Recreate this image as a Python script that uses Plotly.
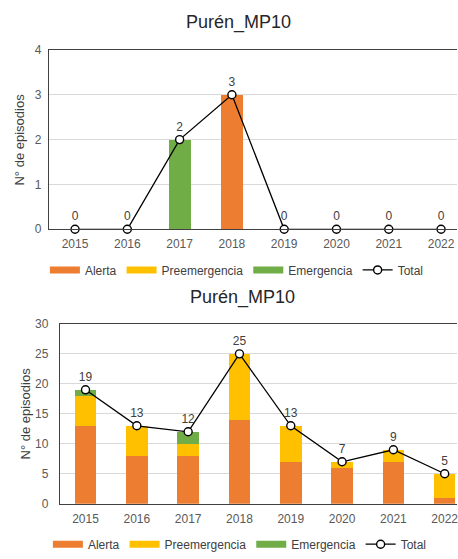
import plotly.graph_objects as go

years = ["2015", "2016", "2017", "2018", "2019", "2020", "2021", "2022"]

# Top chart
top_alerta = [0, 0, 0, 3, 0, 0, 0, 0]
top_pre = [0, 0, 0, 0, 0, 0, 0, 0]
top_emerg = [0, 0, 2, 0, 0, 0, 0, 0]
top_total = [0, 0, 2, 3, 0, 0, 0, 0]

# Bottom chart
bot_alerta = [13, 8, 8, 14, 7, 6, 7, 1]
bot_pre = [5, 5, 2, 11, 6, 1, 2, 4]
bot_emerg = [1, 0, 2, 0, 0, 0, 0, 0]
bot_total = [19, 13, 12, 25, 13, 7, 9, 5]

series_names = ["Alerta", "Preemergencia", "Emergencia"]
colors = ["#ED7D31", "#FFC000", "#70AD47"]
title_text = "Purén_MP10"
ytitle = "N° de episodios"

W, H = 458, 559
FONT = "Liberation Sans, Arial, sans-serif"
TICKC = "#595959"
TXTC = "#404040"

fig = go.Figure()

def add_chart(xa, ya, legend, alerta, pre, emerg, total):
    for name, vals, col in zip(series_names, [alerta, pre, emerg], colors):
        fig.add_trace(go.Bar(x=years, y=vals, name=name, marker_color=col,
                             marker_line_width=0, showlegend=False,
                             xaxis=xa, yaxis=ya))
    fig.add_trace(go.Scatter(x=years, y=total, name="Total", mode="lines+markers+text",
                             text=[str(v) for v in total], textposition="top center",
                             textfont=dict(size=12, color=TXTC, family=FONT),
                             line=dict(color="#000000", width=1.3),
                             marker=dict(symbol="circle", size=8, color="white",
                                         line=dict(color="#000000", width=1.4)),
                             cliponaxis=False, showlegend=False,
                             xaxis=xa, yaxis=ya))
    # legend entries
    for name, col in zip(series_names, colors):
        fig.add_trace(go.Scatter(x=[None], y=[None], name=name, mode="lines",
                                 line=dict(color=col, width=7), legend=legend,
                                 xaxis=xa, yaxis=ya))
    fig.add_trace(go.Scatter(x=[None], y=[None], name="Total", mode="lines+markers",
                             line=dict(color="#000000", width=1.3),
                             marker=dict(symbol="circle", size=8, color="white",
                                         line=dict(color="#000000", width=1.4)),
                             legend=legend, xaxis=xa, yaxis=ya))

add_chart("x", "y", "legend", top_alerta, top_pre, top_emerg, top_total)
add_chart("x2", "y2", "legend2", bot_alerta, bot_pre, bot_emerg, bot_total)

def py(px):
    return 1 - px / H

xcommon = dict(type="category", showgrid=False, showline=True, mirror=True,
               linecolor="#404040", linewidth=1.3, ticks="",
               tickfont=dict(size=12, color=TICKC, family=FONT), fixedrange=True)
ycommon = dict(showgrid=True, gridcolor="#D9D9D9", gridwidth=1, showline=True,
               linecolor="#404040", linewidth=1, ticks="", zeroline=False,
               tickfont=dict(size=12, color=TICKC, family=FONT), fixedrange=True)

fig.update_layout(
    width=W, height=H,
    margin=dict(l=0, r=0, t=0, b=0),
    paper_bgcolor="white", plot_bgcolor="white",
    barmode="stack", bargap=0.58,
    font=dict(family=FONT, color=TXTC),
    xaxis=dict(xcommon, domain=[49 / W, 1], range=[-0.5, 7.305], anchor="y",
               ticklabelstandoff=3),
    yaxis=dict(ycommon, domain=[py(228), py(44)], range=[0, 4], dtick=1, anchor="x",
               ticklabelstandoff=4),
    xaxis2=dict(xcommon, domain=[60 / W, 1], range=[-0.5, 7.24], anchor="y2",
                ticklabelstandoff=4),
    yaxis2=dict(ycommon, domain=[py(509.5), py(325)], range=[0, 30], dtick=5, anchor="x2",
                ticklabelstandoff=8),
    legend=dict(orientation="h", x=45 / W, y=py(269.7), xanchor="left", yanchor="middle",
                font=dict(size=12, color=TXTC, family=FONT), traceorder="normal",
                bgcolor="rgba(0,0,0,0)"),
    legend2=dict(orientation="h", x=48 / W, y=py(551), xanchor="left", yanchor="middle",
                 font=dict(size=12, color=TXTC, family=FONT), traceorder="normal",
                 bgcolor="rgba(0,0,0,0)"),
    annotations=[
        dict(text=title_text, x=239 / W, y=py(16), xref="paper", yref="paper",
             showarrow=False, font=dict(size=18, color="#262626", family=FONT),
             xanchor="center", yanchor="middle"),
        dict(text=title_text, x=243 / W, y=py(298), xref="paper", yref="paper",
             showarrow=False, font=dict(size=18, color="#262626", family=FONT),
             xanchor="center", yanchor="middle"),
        dict(text=ytitle, x=20 / W, y=py(136), xref="paper", yref="paper",
             showarrow=False, textangle=-90, font=dict(size=13, color=TXTC, family=FONT),
             xanchor="center", yanchor="middle"),
        dict(text=ytitle, x=26 / W, y=py(417), xref="paper", yref="paper",
             showarrow=False, textangle=-90, font=dict(size=13, color=TXTC, family=FONT),
             xanchor="center", yanchor="middle"),
    ],
)

fig.write_html("out.html", config={"displayModeBar": False},
               post_script="document.body.style.margin='0';document.body.style.overflow='hidden';")
